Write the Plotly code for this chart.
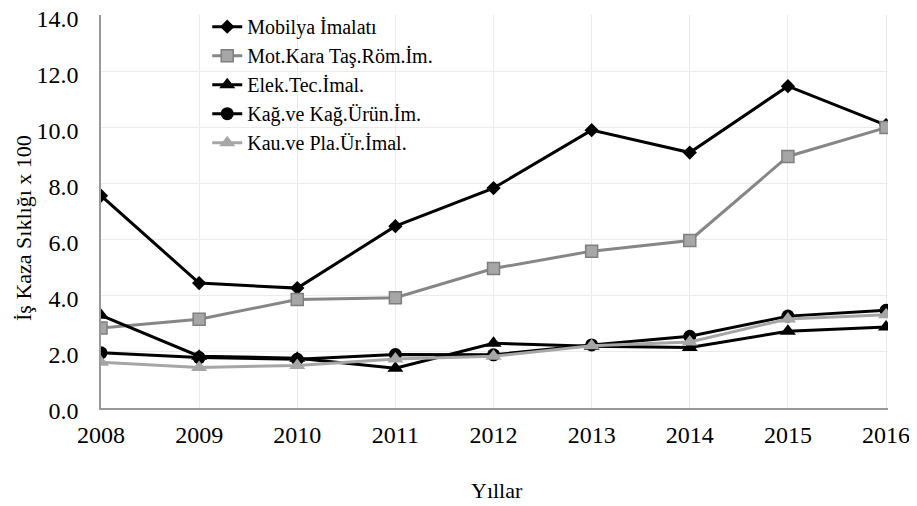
import plotly.graph_objects as go

years = [2008, 2009, 2010, 2011, 2012, 2013, 2014, 2015, 2016]
mobilya = [7.58, 4.46, 4.28, 6.49, 7.85, 9.92, 9.12, 11.49, 10.1]
motkara = [2.86, 3.17, 3.87, 3.94, 4.98, 5.60, 5.98, 8.98, 10.01]
elek = [3.31, 1.85, 1.78, 1.42, 2.31, 2.20, 2.16, 2.74, 2.89]
kag = [1.97, 1.80, 1.74, 1.91, 1.90, 2.25, 2.56, 3.28, 3.49]
kau = [1.63, 1.45, 1.52, 1.75, 1.85, 2.22, 2.36, 3.18, 3.33]

names = ["Mobilya İmalatı", "Mot.Kara Taş.Röm.İm.", "Elek.Tec.İmal.",
         "Kağ.ve Kağ.Ürün.İm.", "Kau.ve Pla.Ür.İmal."]
ytick_vals = [0, 2, 4, 6, 8, 10, 12, 14]
ytick_text = ["0.0", "2.0", "4.0", "6.0", "8.0", "10.0", "12.0", "14.0"]
x_title = "Yıllar"
y_title = "İş Kaza Sıklığı x 100"

FONT = "Liberation Serif, Times New Roman, serif"

fig = go.Figure()
fig.add_trace(go.Scatter(x=years, y=mobilya, name=names[0], mode="lines+markers",
                         line=dict(color="black", width=3),
                         marker=dict(symbol="diamond", size=11, color="black")))
fig.add_trace(go.Scatter(x=years, y=motkara, name=names[1], mode="lines+markers",
                         line=dict(color="#868686", width=3),
                         marker=dict(symbol="square", size=12, color="#a6a6a6",
                                     line=dict(color="#7f7f7f", width=1.5))))
fig.add_trace(go.Scatter(x=years, y=elek, name=names[2], mode="lines+markers",
                         line=dict(color="black", width=3),
                         marker=dict(symbol="triangle-up", size=14, color="black")))
fig.add_trace(go.Scatter(x=years, y=kag, name=names[3], mode="lines+markers",
                         line=dict(color="black", width=3),
                         marker=dict(symbol="circle", size=13, color="black")))
fig.add_trace(go.Scatter(x=years, y=kau, name=names[4], mode="lines+markers",
                         line=dict(color="#a6a6a6", width=3),
                         marker=dict(symbol="triangle-up", size=14, color="#a6a6a6")))

fig.update_layout(
    width=909, height=498,
    margin=dict(l=93, r=29, t=7, b=98, autoexpand=False),
    paper_bgcolor="white", plot_bgcolor="white",
    font=dict(family=FONT, size=24, color="black"),
    legend=dict(x=0.135, y=1.02, xanchor="left", yanchor="top",
                bgcolor="rgba(0,0,0,0)", font=dict(family=FONT, size=20),
                tracegroupgap=0),
    xaxis=dict(range=[2008, 2016.02], tickmode="array", tickvals=years,
               ticktext=[str(y) for y in years],
               showgrid=True, gridcolor="#ebebeb", gridwidth=1,
               showline=True, linecolor="#999999", linewidth=1.5,
               zeroline=False, ticks="", ticklabelstandoff=4,
               ticklabeloverflow="allow", automargin=False),
    yaxis=dict(range=[0, 14.03], tickvals=ytick_vals, ticktext=ytick_text,
               showgrid=True, gridcolor="#ebebeb", gridwidth=1,
               showline=True, linecolor="#999999", linewidth=1.5,
               zeroline=False, ticks="", ticklabelstandoff=16,
               ticklabelshift=3,
               ticklabeloverflow="allow", automargin=False),
    annotations=[
        dict(text=x_title, xref="paper", yref="paper", x=0.5, y=0,
             xshift=2, yshift=-82, xanchor="center", yanchor="middle",
             showarrow=False, font=dict(family=FONT, size=22)),
        dict(text=y_title, xref="paper", yref="paper", x=0, y=0.458,
             xshift=-78, xanchor="center", yanchor="middle", textangle=-90,
             showarrow=False, font=dict(family=FONT, size=22)),
    ],
)

fig.write_html("out.html")
